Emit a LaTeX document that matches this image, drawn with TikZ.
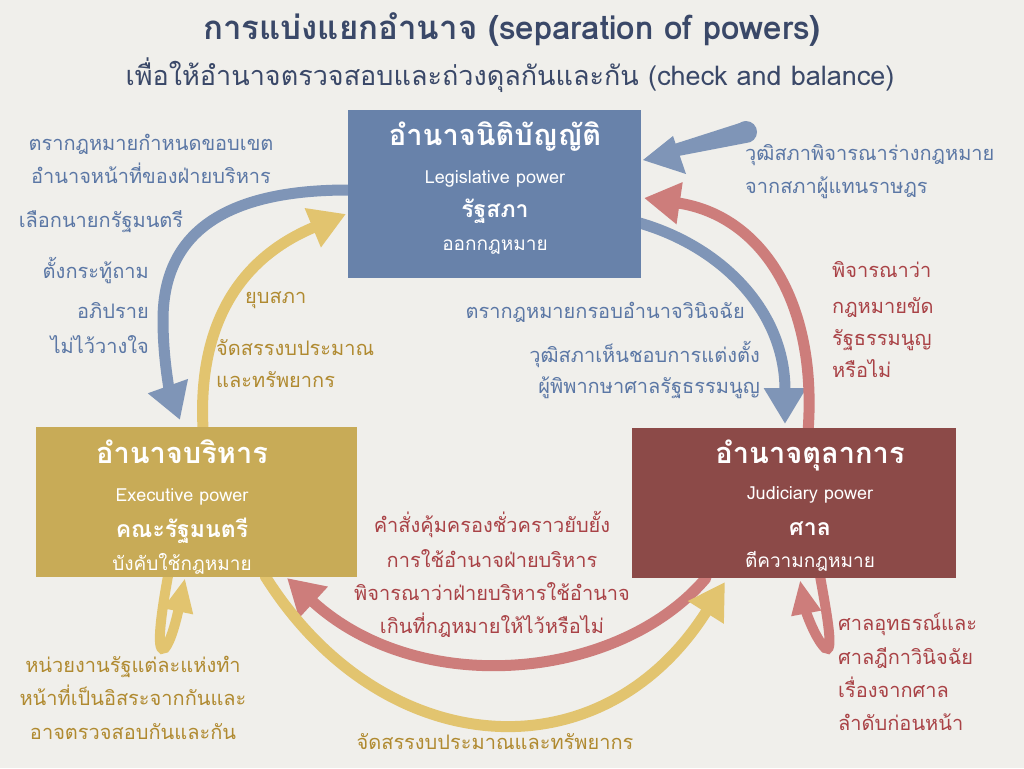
\documentclass[tikz,border=0pt]{standalone}
\usepackage{fontspec}
\setmainfont{Loma}[Script=Thai]
\usetikzlibrary{arrows.meta}
\definecolor{bgc}{HTML}{F0EFEB}
\definecolor{legc}{HTML}{6882AA}
\definecolor{exec}{HTML}{C8AB57}
\definecolor{judc}{HTML}{8C4A48}
\definecolor{barr}{HTML}{7F95B7}
\definecolor{yarr}{HTML}{E2C46F}
\definecolor{rarr}{HTML}{CD7D7B}
\definecolor{btxt}{HTML}{5B77A5}
\definecolor{ytxt}{HTML}{B08A30}
\definecolor{rtxt}{HTML}{A94246}
\definecolor{ttxt}{HTML}{3A4868}
\begin{document}
\begin{tikzpicture}[x=1pt,y=-1pt,
  lab/.style={inner sep=0pt,yshift=-5pt,font=\fontsize{20}{22}\selectfont},
  bl/.style={lab,text=btxt},
  yl/.style={lab,text=ytxt},
  rl/.style={lab,text=rtxt},
  powbox/.style={draw=none,inner sep=0pt},
  bh/.style={inner sep=0pt,yshift=-6pt,text=white,font=\fontsize{29}{32}\selectfont\bfseries},
  bsub/.style={inner sep=0pt,yshift=-5pt,text=white,font=\fontsize{18}{20}\selectfont},
  bname/.style={inner sep=0pt,yshift=-5pt,text=white,font=\fontsize{23}{26}\selectfont\bfseries},
  bdesc/.style={inner sep=0pt,yshift=-5pt,text=white,font=\fontsize{19}{22}\selectfont},
  arr/.style={line width=11pt,line cap=round,-{Triangle[width=40pt,length=36pt]}},
  sarr/.style={line width=10pt,line cap=round,-{Triangle[width=28pt,length=34pt]}}
]
\fill[bgc] (0,0) rectangle (1024,768);
\useasboundingbox (0,0) rectangle (1024,768);

% title
\node[inner sep=0pt,anchor=mid,yshift=-7pt,text=ttxt,font=\fontsize{33}{36}\selectfont\bfseries] (title) at (512,30) {การแบ่งแยกอำนาจ (separation of powers)};
\node[inner sep=0pt,anchor=mid,yshift=-6pt,text=ttxt,font=\fontsize{27}{30}\selectfont] (subtitle) at (510,77) {เพื่อให้อำนาจตรวจสอบและถ่วงดุลกันและกัน (check and balance)};

% boxes (named, filled later on top of the arrows)
\path (494.5,194) node[powbox,minimum width=293pt,minimum height=168pt] (leg) {};
\path (196.5,502) node[powbox,minimum width=321pt,minimum height=150pt] (exe) {};
\path (794,503) node[powbox,minimum width=324pt,minimum height=150pt] (jud) {};

% coordinates for connector ends
\coordinate (a1s) at (348,190);
\coordinate (a1e) at (180,420);
\coordinate (a2s) at (203,428);
\coordinate (a2e) at (346,214);
\coordinate (a3s) at (636,222);
\coordinate (a3e) at (785,424);
\coordinate (a4s) at (808,432);
\coordinate (a4e) at (644,198);
\coordinate (a6s) at (706,578);
\coordinate (a6e) at (287,578);
\coordinate (a7s) at (265,576);
\coordinate (a7e) at (725,582);
\coordinate (a8s) at (168,576);
\coordinate (a8e) at (185,578);
\coordinate (a9s) at (820,576);
\coordinate (a9e) at (800,580);

% arrows
\draw[arr,barr] (a1s) .. controls (215,190) and (163,240) .. (163,320) .. controls (163,360) and (170,392) .. (a1e);
\draw[arr,yarr] (a2s) .. controls (198,330) and (235,260) .. (a2e);
\draw[arr,barr] (a3s) .. controls (720,245) and (785,310) .. (a3e);
\draw[arr,rarr] (a4s) .. controls (818,300) and (760,215) .. (a4e);
\draw[arr,rarr] (a6s) .. controls (620,680) and (420,700) .. (a6e);
\draw[arr,yarr] (a7s) .. controls (380,760) and (600,780) .. (a7e);
\draw[sarr,yarr] (a8s) .. controls (160,620) and (156,655) .. (165,648) .. controls (172,640) and (178,612) .. (a8e);
\draw[sarr,rarr] (a9s) .. controls (828,620) and (834,655) .. (825,648) .. controls (815,638) and (806,612) .. (a9e);

% tapered arrow into legislative
\coordinate (tb) at (746,132);
\fill[barr] (tb) circle (11);
\fill[barr] (746,121) -- (668,146) -- (668,158) -- (746,143) -- cycle;
\fill[barr] (643,160) -- (673,136) -- (686,174) -- cycle;

% boxes
\fill[legc] (leg.north west) rectangle (leg.south east);
\fill[exec] (exe.north west) rectangle (exe.south east);
\fill[judc] (jud.north west) rectangle (jud.south east);

% box texts
\node[bh,anchor=mid] (legt1) at (495,137) {อำนาจนิติบัญญัติ};
\node[bsub,anchor=mid] (legt2) at (495,176) {Legislative power};
\node[bname,anchor=mid] (legt3) at (495,210) {รัฐสภา};
\node[bdesc,anchor=mid] (legt4) at (495,243) {ออกกฎหมาย};

\node[bh,anchor=mid] (exet1) at (182,455) {อำนาจบริหาร};
\node[bsub,anchor=mid] (exet2) at (182,494) {Executive power};
\node[bname,anchor=mid] (exet3) at (182,530) {คณะรัฐมนตรี};
\node[bdesc,anchor=mid] (exet4) at (182,563) {บังคับใช้กฎหมาย};

\node[bh,anchor=mid] (judt1) at (810,455) {อำนาจตุลาการ};
\node[bsub,anchor=mid] (judt2) at (810,492) {Judiciary power};
\node[bname,anchor=mid] (judt3) at (810,528) {ศาล};
\node[bdesc,anchor=mid] (judt4) at (810,560) {ตีความกฎหมาย};

% blue labels
\node[bl,anchor=mid] (b1) at (151,143) {ตรากฎหมายกำหนดขอบเขต};
\node[bl,anchor=mid] (b2) at (151,176) {อำนาจหน้าที่ของฝ่ายบริหาร};
\node[bl,anchor=mid] (b3) at (101,220) {เลือกนายกรัฐมนตรี};
\node[bl,anchor=mid east] (b4) at (149,271) {ตั้งกระทู้ถาม};
\node[bl,anchor=mid east] (b5) at (149,311) {อภิปราย};
\node[bl,anchor=mid east] (b6) at (149,346) {ไม่ไว้วางใจ};
\node[bl,anchor=mid west] (b7) at (745,153) {วุฒิสภาพิจารณาร่างกฎหมาย};
\node[bl,anchor=mid west] (b8) at (745,186) {จากสภาผู้แทนราษฎร};
\node[bl,anchor=mid east] (b9) at (745,311) {ตรากฎหมายกรอบอำนาจวินิจฉัย};
\node[bl,anchor=mid east] (b10) at (760,355) {วุฒิสภาเห็นชอบการแต่งตั้ง};
\node[bl,anchor=mid east] (b11) at (760,386) {ผู้พิพากษาศาลรัฐธรรมนูญ};

% gold labels
\node[yl,anchor=mid west] (y1) at (245,296) {ยุบสภา};
\node[yl,anchor=mid west] (y2) at (216,348) {จัดสรรงบประมาณ};
\node[yl,anchor=mid west] (y3) at (216,380) {และทรัพยากร};
\node[yl,anchor=mid] (y4) at (133,665) {หน่วยงานรัฐแต่ละแห่งทำ};
\node[yl,anchor=mid] (y5) at (133,698) {หน้าที่เป็นอิสระจากกันและ};
\node[yl,anchor=mid] (y6) at (133,732) {อาจตรวจสอบกันและกัน};
\node[yl,anchor=mid] (y7) at (495,742) {จัดสรรงบประมาณและทรัพยากร};

% red labels
\node[rl,anchor=mid west] (r1) at (832,270) {พิจารณาว่า};
\node[rl,anchor=mid west] (r2) at (832,306) {กฎหมายขัด};
\node[rl,anchor=mid west] (r3) at (832,338) {รัฐธรรมนูญ};
\node[rl,anchor=mid west] (r4) at (832,370) {หรือไม่};
\node[rl,anchor=mid] (r5) at (492,525) {คำสั่งคุ้มครองชั่วคราวยับยั้ง};
\node[rl,anchor=mid] (r6) at (492,560) {การใช้อำนาจฝ่ายบริหาร};
\node[rl,anchor=mid] (r7) at (492,593) {พิจารณาว่าฝ่ายบริหารใช้อำนาจ};
\node[rl,anchor=mid] (r8) at (492,626) {เกินที่กฎหมายให้ไว้หรือไม่};
\node[rl,anchor=mid west] (r9) at (838,623) {ศาลอุทธรณ์และ};
\node[rl,anchor=mid west] (r10) at (838,657) {ศาลฎีกาวินิจฉัย};
\node[rl,anchor=mid west] (r11) at (838,690) {เรื่องจากศาล};
\node[rl,anchor=mid west] (r12) at (838,723) {ลำดับก่อนหน้า};
\end{tikzpicture}
\end{document}
